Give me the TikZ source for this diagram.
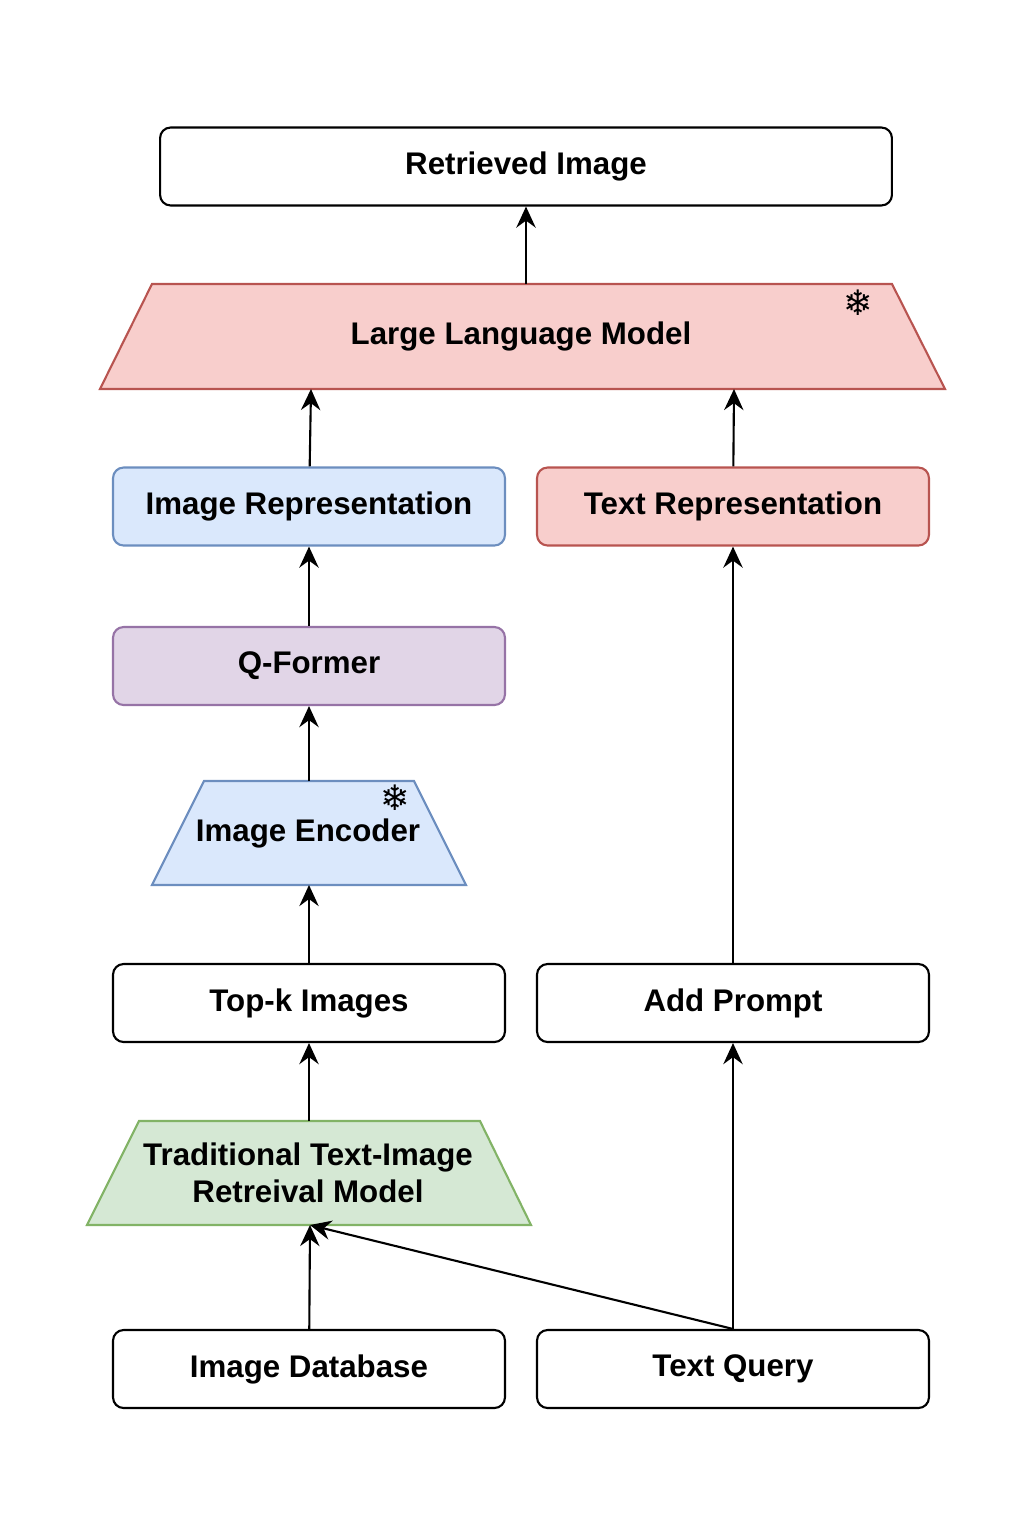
\documentclass[tikz,border=0pt]{standalone}
\usepackage{fontspec}
\setmainfont{Liberation Sans}
\newfontfamily\snowfont{DejaVu Sans}
\usetikzlibrary{arrows.meta}
\tikzset{
  box/.style={draw, rounded corners=6pt, line width=1.2pt, minimum width=7.84cm, minimum height=1.56cm, font=\bfseries\fontsize{17.8}{21}\selectfont},
  lbl/.style={font=\bfseries\fontsize{17.8}{21}\selectfont, align=center},
  trap/.style={line width=1.2pt},
  flow/.style={-{Stealth[length=12pt,width=11pt,inset=4pt]}, line width=1.2pt},
  snow/.style={font=\snowfont\fontsize{20}{20}\selectfont}
}
\definecolor{bluef}{HTML}{DAE8FC}\definecolor{blued}{HTML}{6C8EBF}
\definecolor{redf}{HTML}{F8CECC}\definecolor{redd}{HTML}{B85450}
\definecolor{purf}{HTML}{E1D5E7}\definecolor{purd}{HTML}{9673A6}
\definecolor{grnf}{HTML}{D5E8D4}\definecolor{grnd}{HTML}{82B366}
\begin{document}
\begin{tikzpicture}[x=0.02cm,y=-0.02cm]
\useasboundingbox (0,0) rectangle (1033,1538);
% boxes
\node[box, minimum width=14.64cm] (retrieved) at (526,166.5) {Retrieved Image};
\node[box, fill=bluef, draw=blued] (imgrep) at (309,506.5) {Image Representation};
\node[box, fill=redf, draw=redd] (txtrep) at (733,506.5) {Text Representation};
\node[box, fill=purf, draw=purd] (qformer) at (309,666) {Q-Former};
\node[box] (topk) at (309,1003) {Top-k Images};
\node[box] (prompt) at (733,1003) {Add Prompt};
\node[box] (imgdb) at (309,1369) {Image Database};
\node[box] (query) at (733,1369) {Text Query};
% trapezoids
\draw[trap, fill=redf, draw=redd] (152,284) -- (892,284) -- (945,389) -- (100,389) -- cycle;
\node[lbl] (llm) at (521,336) {Large Language Model};
\node[snow] (snowllm) at (858,303) {❄};
\coordinate (llmtop) at (526,284);
\coordinate (llmleft) at (311,389);
\coordinate (llmright) at (734,389);
\draw[trap, fill=bluef, draw=blued] (204,781) -- (414,781) -- (466,885) -- (152,885) -- cycle;
\node[lbl] (encoder) at (308,833) {Image Encoder};
\node[snow] (snowenc) at (395,798) {❄};
\coordinate (enctop) at (309,781);
\coordinate (encbot) at (309,885);
\draw[trap, fill=grnf, draw=grnd] (139,1121) -- (480,1121) -- (531,1225) -- (87,1225) -- cycle;
\node[lbl, inner sep=0pt] (trad) at (308,1173) {Traditional Text-Image\\[0pt]Retreival Model};
\coordinate (tradtop) at (309,1121);
\coordinate (tradbot) at (310,1225);
% connectors
\draw[flow] (llmtop) -- (retrieved);
\draw[flow] (imgrep) -- (llmleft);
\draw[flow] (txtrep) -- (llmright);
\draw[flow] (qformer) -- (imgrep);
\draw[flow] (enctop) -- (qformer);
\draw[flow] (topk) -- (encbot);
\draw[flow] (tradtop) -- (topk);
\draw[flow] (imgdb) -- (tradbot);
\draw[flow] (query.north) -- (tradbot);
\draw[flow] (query) -- (prompt);
\draw[flow] (prompt) -- (txtrep);
\end{tikzpicture}
\end{document}
